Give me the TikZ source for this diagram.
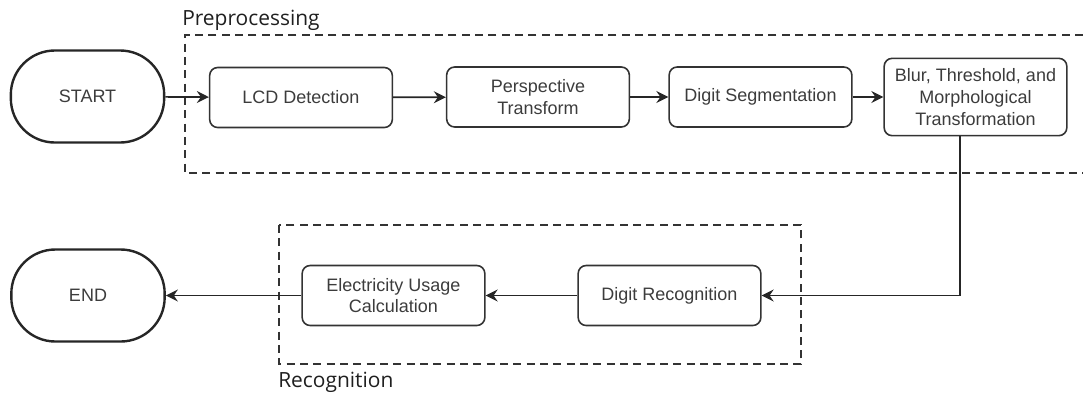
\documentclass[tikz,border=0pt]{standalone}
\usepackage{fontspec}
\setmainfont{Liberation Sans}
\newfontfamily\groupfont{Open Sans}
\usepackage{xcolor}
\usetikzlibrary{arrows.meta, positioning}

\definecolor{boxline}{HTML}{333333}
\definecolor{boxtext}{HTML}{3C3C3C}

\begin{document}
\begin{tikzpicture}[x=0.75pt, y=-0.75pt,
    >={Stealth[length=9pt, width=9pt, inset=3pt]},
    stepbox/.style={draw=boxline, line width=1.2pt, rounded corners=6pt,
      minimum width=137pt, minimum height=45pt, inner sep=2pt,
      align=center, text=boxtext, font=\fontsize{13.5}{16.2}\selectfont},
    terminal/.style={draw=black!85, line width=1.8pt, rounded corners=33pt,
      minimum width=115pt, minimum height=69pt, text=boxtext,
      font=\fontsize{13.5}{16.2}\selectfont},
    groupbox/.style={draw=boxline, line width=1.1pt, dash pattern=on 6pt off 4pt},
    grouplabel/.style={anchor=base west, inner sep=0pt, text=black!88,
      font=\groupfont\fontsize{15.7}{18}\selectfont},
    flow/.style={->, draw=black!85, line width=1.3pt}]
          \useasboundingbox (0,0) rectangle (1083,394);

          % groups
          \draw[groupbox] (1083,35) -- (185,35) -- (185,173) -- (1083,173);
          \draw[groupbox] (279,225) rectangle (801,364);
          \node[grouplabel] (prelbl) at (182,25) {Preprocessing};
          \node[grouplabel] (reclbl) at (278,387) {Recognition};

          % steps
          \node[terminal] (start) at (87.5,96.5) {START};
          \node[stepbox] (lcd) at (301,97.5) {LCD Detection};
          \node[stepbox] (persp) at (538,97) {Perspective\\Transform};
          \node[stepbox] (seg) at (760.5,97) {Digit Segmentation};
          \node[stepbox, minimum height=58pt] (blur) at (975.5,97)
            {Blur, Threshold, and\\Morphological\\Transformation};
          \node[stepbox] (digrec) at (669.5,295.5) {Digit Recognition};
          \node[stepbox] (elec) at (393.5,295.5) {Electricity Usage\\Calculation};
          \node[terminal] (stop) at (88,295.5) {END};
          \coordinate (turn) at (960,295.5);

          % connectors
          \draw[flow] (start) -- (lcd);
          \draw[flow] (lcd) -- (persp);
          \draw[flow] (persp) -- (seg);
          \draw[flow] (seg) -- (blur);
          \draw[flow] (blur.south -| turn) -- (turn) -- (digrec.east);
          \draw[flow] (digrec) -- (elec);
          \draw[flow] (elec) -- (stop);
        \end{tikzpicture}
\end{document}
